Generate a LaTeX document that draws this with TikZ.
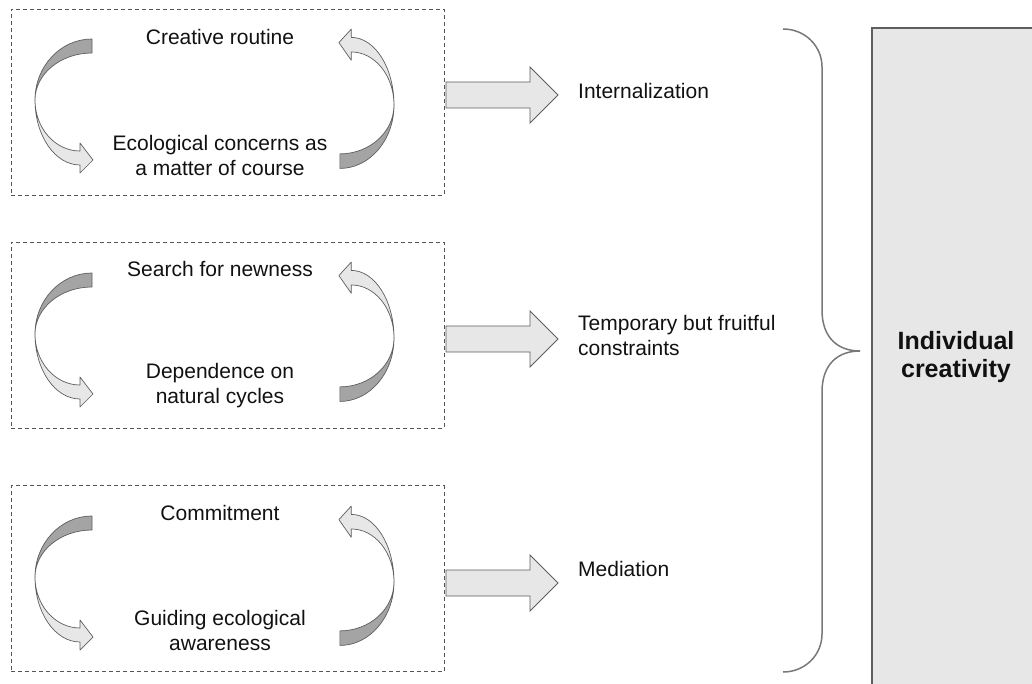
\documentclass[tikz,border=0pt]{standalone}
\usepackage{fontspec}
\setmainfont{Liberation Sans}
\usetikzlibrary{calc}
\definecolor{dashc}{HTML}{555555}
\definecolor{linec}{HTML}{5E5E5E}
\definecolor{darkf}{HTML}{A4A4A4}
\definecolor{lightf}{HTML}{E7E7E7}
\definecolor{bracec}{HTML}{787878}
\definecolor{txt}{HTML}{111111}
\tikzset{
  arrdark/.style={draw=linec, line width=0.7pt, fill=darkf, line join=round},
  arrlight/.style={draw=linec, line width=0.7pt, fill=lightf, line join=round},
  cycarrow/.pic={
    \path[arrdark] (0,0) arc[start angle=180,end angle=270,x radius=57,y radius=61]
      -- (57,-47) arc[start angle=270,end angle=180,x radius=57,y radius=47] -- cycle;
    \path[arrlight] (0,0) arc[start angle=180,end angle=90,x radius=45,y radius=65]
      -- (45,73) -- (58,60) -- (45,43) -- (45,51)
      arc[start angle=90,end angle=180,x radius=45,y radius=51] -- cycle;
  }
}
\begin{document}
\begin{tikzpicture}[x=1pt,y=-1pt,
  dbox/.style={draw=dashc, dash pattern=on 4pt off 3pt, line width=0.9pt,
    minimum width=433pt, minimum height=186pt, inner sep=0pt},
  intext/.style={text=txt, align=center, inner sep=0pt,
    font=\fontsize{21}{25}\selectfont},
  outtext/.style={text=txt, align=left, inner sep=0pt, anchor=west,
    font=\fontsize{21}{25}\selectfont},
  blockarrow/.style={draw=linec, line width=0.9pt, fill=lightf, line join=miter},
  bracestyle/.style={draw=bracec, line width=1.5pt},
  bigbox/.style={draw=linec, line width=1.2pt, fill=lightf},
  bigtext/.style={text=txt, align=center, inner sep=0pt,
    font=\fontsize{25}{28.5}\selectfont\bfseries}]
\useasboundingbox (0,0) rectangle (1032,684);

% dashed boxes
\node[dbox] (b1) at (227.5,102) {};
\node[dbox] (b2) at (227.5,335) {};
\node[dbox] (b3) at (227.5,578.5) {};

% cycle arrows
\pic at (35,100) {cycarrow};
\pic[xscale=-0.95,yscale=-1.04] at (394,105) {cycarrow};
\pic at (35,334) {cycarrow};
\pic[xscale=-0.95,yscale=-1.04] at (394,338) {cycarrow};
\pic at (35,577) {cycarrow};
\pic[xscale=-0.95,yscale=-1.04] at (394,582) {cycarrow};

% texts in boxes
\node[intext] (t1a) at (220,37) {Creative routine};
\node[intext] (t1b) at (220,155) {Ecological concerns as\\a matter of course};
\node[intext] (t2a) at (220,269) {Search for newness};
\node[intext] (t2b) at (220,385.5) {Dependence on\\natural cycles};
\node[intext] (t3a) at (220,513) {Commitment};
\node[intext] (t3b) at (220,630.5) {Guiding ecological\\awareness};

% outcome labels
\node[outtext] (o1) at (578,91) {Internalization};
\node[outtext] (o2) at (578,335) {Temporary but fruitful\\constraints};
\node[outtext] (o3) at (578,569) {Mediation};

% block arrows
\coordinate (a1) at (446,95);
\coordinate (a2) at (446,339);
\coordinate (a3) at (446,583);
\foreach \a in {a1,a2,a3}{
  \draw[blockarrow] ($(\a)+(0,-13)$) -- ++(84,0) -- ++(0,-15) -- ++(28,28)
    -- ++(-28,28) -- ++(0,-15) -- ++(-84,0) -- cycle;
}

% big box
\path[bigbox] (872,28) rectangle (1045,700);
\node[bigtext] (ic) at (956,357) {Individual\\creativity};

% brace
\coordinate (brtop) at (783,29);
\coordinate (brtip) at (860,351);
\coordinate (brbot) at (783,672);
\draw[bracestyle] (brtop) .. controls (805,29) and (822,46) .. (822,67)
  -- (822,310) .. controls (822,338) and (838,351) .. (brtip)
  .. controls (838,351) and (822,364) .. (822,392)
  -- (822,634) .. controls (822,655) and (805,672) .. (brbot);
\end{tikzpicture}
\end{document}
